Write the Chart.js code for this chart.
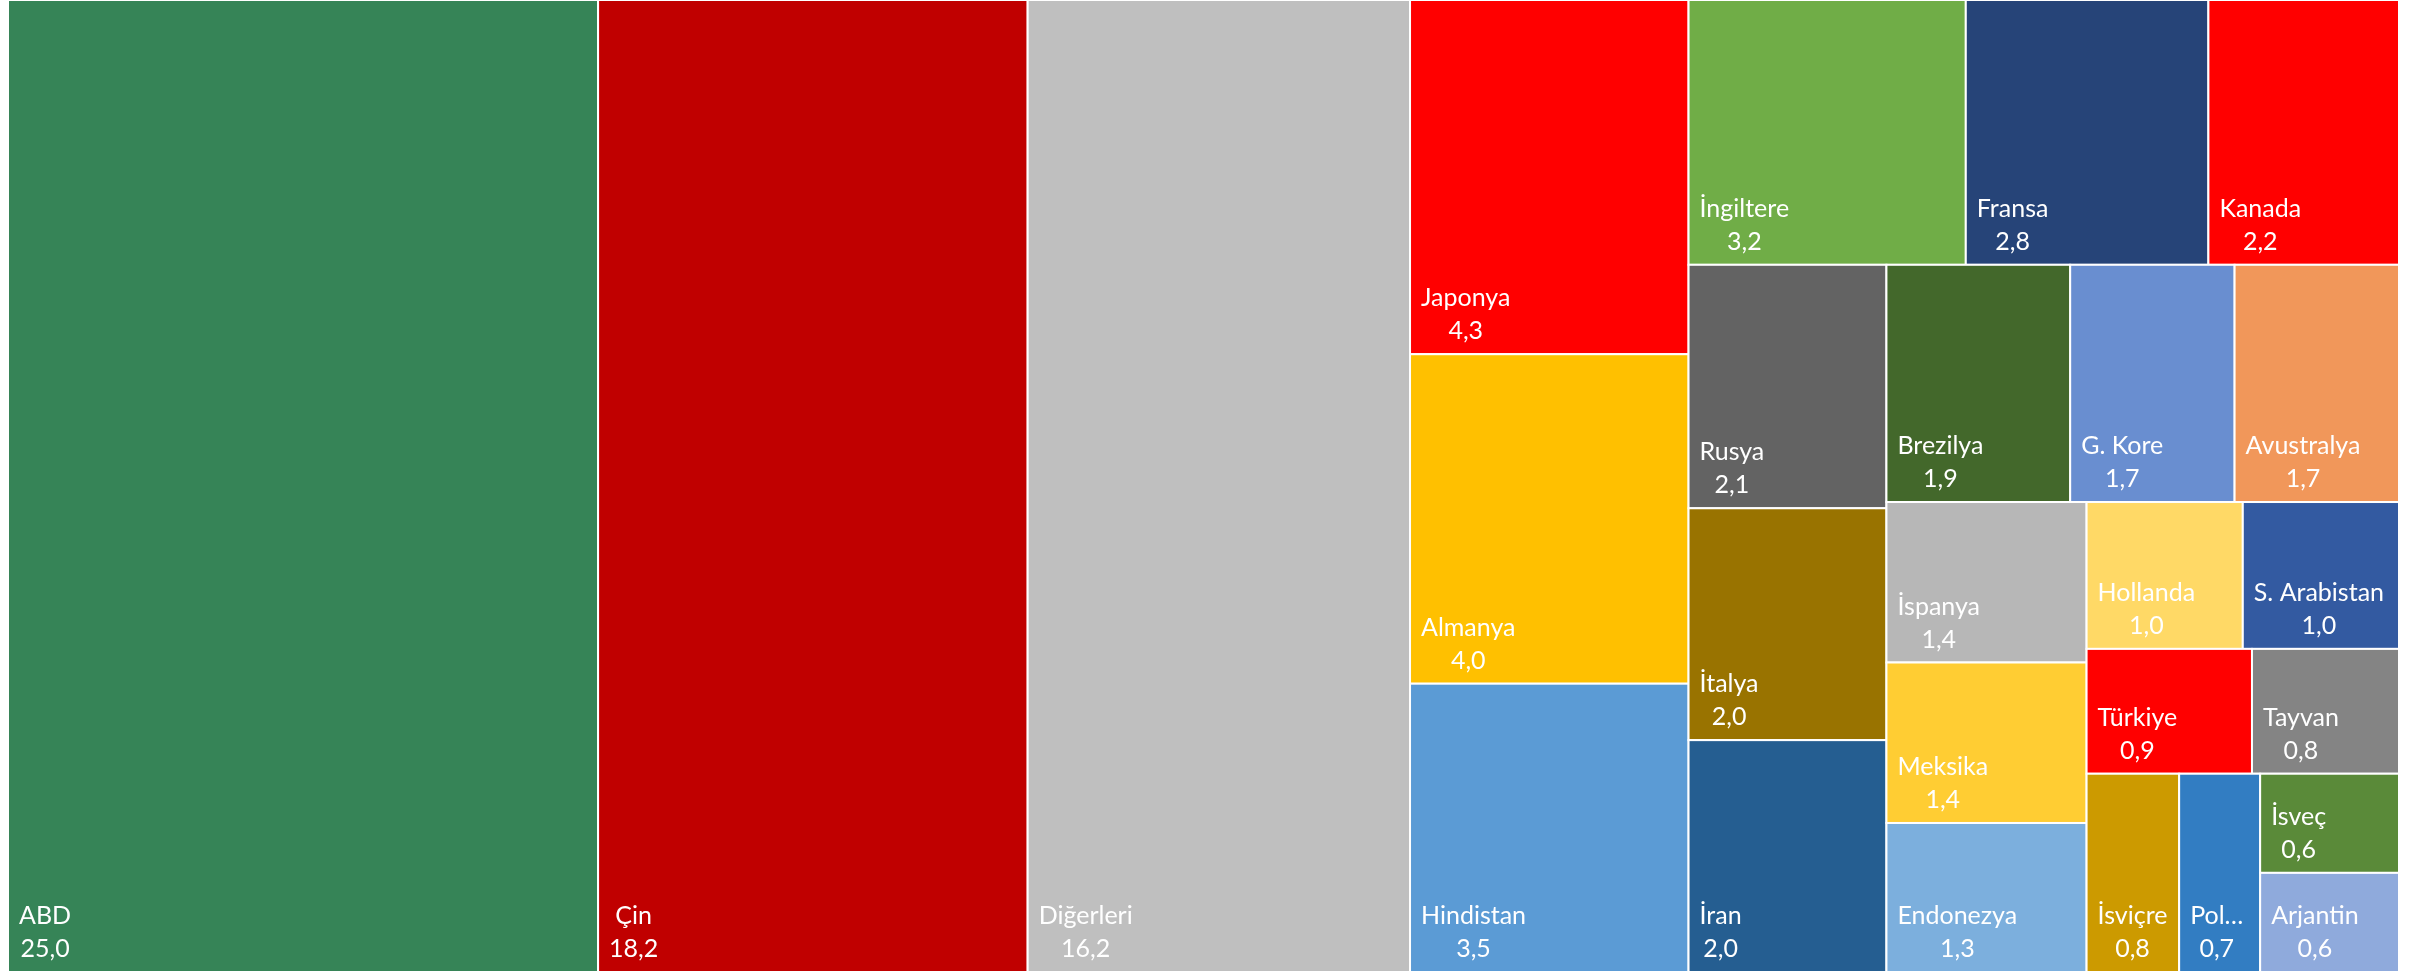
<!DOCTYPE html>
<html lang="tr">
<head>
  <meta charset="UTF-8" />
  <title>Treemap</title>
  <script src="https://cdn.jsdelivr.net/npm/chart.js"></script>
  <style>
    body {
      margin: 0;
      padding: 0;
      background: #fff;
    }

    /* fixed size box, same as the screenshot */
    .chart-box {
      width: 2427px;
      height: 974px;
      position: relative;
    }
  </style>
</head>
<body>
  <div class="chart-box">
    <canvas id="treemap"></canvas>
  </div>

  <script>
    // Countries, in the order they are laid out (largest first)
    const countries = [
      'ABD', 'Çin', 'Diğerleri', 'Japonya', 'Almanya', 'Hindistan',
      'İngiltere', 'Fransa', 'Kanada', 'Rusya', 'İtalya', 'İran',
      'Brezilya', 'G. Kore', 'Avustralya', 'İspanya', 'Meksika', 'Endonezya',
      'Hollanda', 'S. Arabistan', 'Türkiye', 'Tayvan', 'İsviçre', 'Polonya',
      'İsveç', 'Arjantin'
    ];

    // Share values shown on each tile
    const shares = [
      25.0, 18.2, 16.2, 4.3, 4.0, 3.5,
      3.2, 2.8, 2.2, 2.1, 2.0, 2.0,
      1.9, 1.7, 1.7, 1.4, 1.4, 1.3,
      1.0, 1.0, 0.9, 0.8, 0.8, 0.7,
      0.6, 0.6
    ];

    const tileColors = [
      '#368457', '#C00000', '#BFBFBF', '#FF0000', '#FFC000', '#5B9BD5',
      '#70AD47', '#264478', '#FF0000', '#636363', '#997300', '#255E91',
      '#43682B', '#698ED0', '#F1975A', '#B7B7B7', '#FFCD33', '#7CAFDD',
      '#FFD966', '#335AA1', '#FF0000', '#848484', '#CC9A00', '#327DC2',
      '#5A8A39', '#8FAADC'
    ];

    // A lone tile is kept on its own strip if it is already this square
    const SINGLE_LIMIT = 3;

    function sum(arr) {
      return arr.reduce((a, b) => a + b, 0);
    }

    function worstRatio(row, side, unitArea) {
      const thick = sum(row) * unitArea / side;
      let worst = 0;
      row.forEach(v => {
        const len = v * unitArea / thick;
        worst = Math.max(worst, len / thick, thick / len);
      });
      return worst;
    }

    // Squarified layout, works in units where the box is w by h
    function squarify(values, x, y, w, h) {
      const unitArea = (w * h) / sum(values);
      const rects = [];
      let i = 0;
      while (i < values.length) {
        const vertical = w >= h;           // strip runs along the shorter side
        const side = vertical ? h : w;
        const row = [values[i]];
        let j = i + 1;
        let worst = worstRatio(row, side, unitArea);
        if (worst >= SINGLE_LIMIT) {
          while (j < values.length) {
            const next = worstRatio(row.concat(values[j]), side, unitArea);
            if (next > worst) break;
            row.push(values[j]);
            worst = next;
            j++;
          }
        }
        const thick = sum(row) * unitArea / side;
        let offset = 0;
        row.forEach(v => {
          const len = v * unitArea / thick;
          if (vertical) rects.push({ x: x, y: y + offset, w: thick, h: len });
          else rects.push({ x: x + offset, y: y, w: len, h: thick });
          offset += len;
        });
        if (vertical) { x += thick; w -= thick; } else { y += thick; h -= thick; }
        i = j;
      }
      return rects;
    }

    function fitText(ctx, text, maxW) {
      if (ctx.measureText(text).width <= maxW) return text;
      let t = text;
      while (t.length > 1 && ctx.measureText(t + '…').width > maxW) {
        t = t.slice(0, -1);
      }
      return t + '…';
    }

    const formatValue = v => v.toFixed(1).replace('.', ',');

    // Draws the tiles through the x / y scales
    const treemapPlugin = {
      id: 'treemapTiles',
      beforeDatasetsDraw(chart) {
        const { ctx, chartArea } = chart;
        const xs = chart.scales.x;
        const ys = chart.scales.y;
        const aspect = chartArea.width / chartArea.height;
        const rects = squarify(shares, 0, 0, aspect, 1);

        ctx.save();
        rects.forEach((r, i) => {
          const left = xs.getPixelForValue(r.x / aspect);
          const right = xs.getPixelForValue((r.x + r.w) / aspect);
          const top = ys.getPixelForValue(r.y);
          const bottom = ys.getPixelForValue(r.y + r.h);

          ctx.fillStyle = tileColors[i];
          ctx.fillRect(left, top, right - left, bottom - top);
          ctx.strokeStyle = '#ffffff';
          ctx.lineWidth = 2;
          ctx.strokeRect(left, top, right - left, bottom - top);

          // name + value, centred on each other, block sits bottom-left
          ctx.font = '25px Lato';
          ctx.fillStyle = '#ffffff';
          ctx.textAlign = 'center';
          ctx.textBaseline = 'alphabetic';
          const name = fitText(ctx, countries[i], right - left - 22);
          const value = formatValue(shares[i]);
          const blockW = Math.max(ctx.measureText(name).width, ctx.measureText(value).width);
          const cx = left + 11 + blockW / 2;
          ctx.fillText(name, cx, bottom - 48);
          ctx.fillText(value, cx, bottom - 15);
        });
        ctx.restore();
      }
    };

    const ctx = document.getElementById('treemap').getContext('2d');
    const chart = new Chart(ctx, {
      type: 'scatter',
      data: {
        datasets: [{ data: [], pointRadius: 0 }]
      },
      options: {
        responsive: true,
        maintainAspectRatio: false,
        animation: false,
        layout: {
          padding: { left: 8, right: 28, top: 0, bottom: 2 }
        },
        plugins: {
          legend: { display: false },
          tooltip: { enabled: false }
        },
        scales: {
          x: { display: false, min: 0, max: 1 },
          y: { display: false, min: 0, max: 1, reverse: true }
        }
      },
      plugins: [treemapPlugin]
    });
  </script>
</body>
</html>
